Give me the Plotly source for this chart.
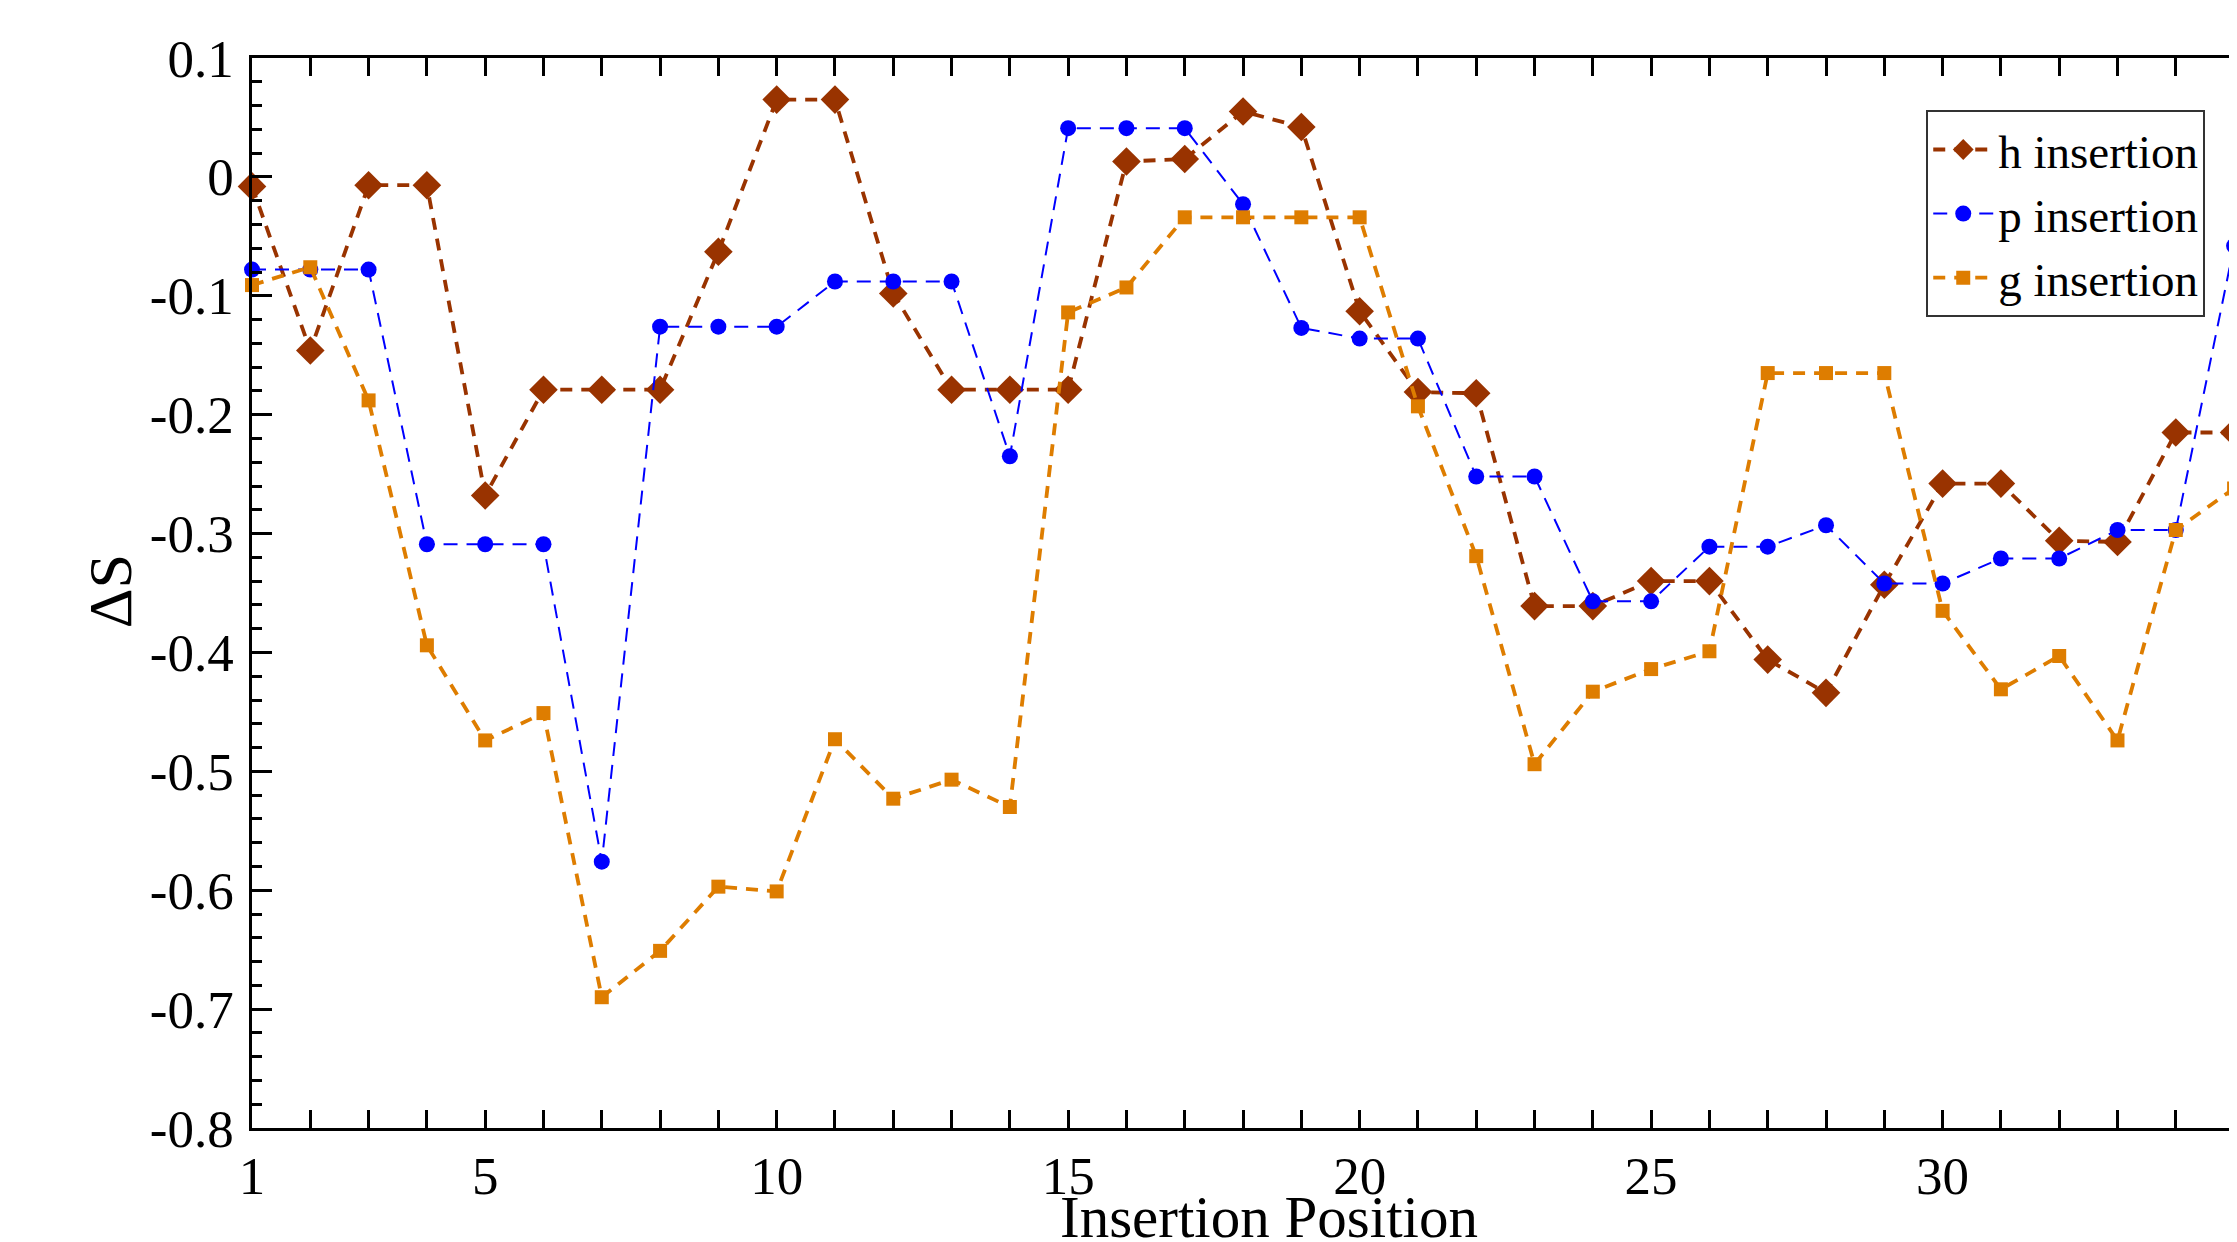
import plotly.graph_objects as go

positions = list(range(1, 36))

h_insertion = [-0.008, -0.146, -0.007, -0.007, -0.268, -0.179, -0.179, -0.179, -0.063, 0.065,
               0.065, -0.098, -0.179, -0.179, -0.179, 0.013, 0.015, 0.055, 0.042, -0.113,
               -0.181, -0.182, -0.361, -0.361, -0.340, -0.340, -0.406, -0.434, -0.343, -0.258,
               -0.258, -0.306, -0.307, -0.215, -0.215]

p_insertion = [-0.078, -0.078, -0.078, -0.309, -0.309, -0.309, -0.576, -0.126, -0.126, -0.126,
               -0.088, -0.088, -0.088, -0.235, 0.041, 0.041, 0.041, -0.023, -0.127, -0.136,
               -0.136, -0.252, -0.252, -0.357, -0.357, -0.311, -0.311, -0.293, -0.342, -0.342,
               -0.321, -0.321, -0.297, -0.297, -0.058]

g_insertion = [-0.091, -0.076, -0.188, -0.394, -0.474, -0.451, -0.690, -0.651, -0.597, -0.601,
               -0.473, -0.523, -0.507, -0.530, -0.114, -0.093, -0.034, -0.034, -0.034, -0.034,
               -0.193, -0.319, -0.494, -0.433, -0.414, -0.399, -0.165, -0.165, -0.165, -0.365,
               -0.431, -0.403, -0.474, -0.297, -0.262]

x_tick_vals = list(range(1, 36))
x_tick_text = [str(v) if (v == 1 or v % 5 == 0) else "" for v in x_tick_vals]
y_tick_vals = [0.1, 0, -0.1, -0.2, -0.3, -0.4, -0.5, -0.6, -0.7, -0.8]
y_tick_text = ["0.1", "0", "-0.1", "-0.2", "-0.3", "-0.4", "-0.5", "-0.6", "-0.7", "-0.8"]

FONT = "Liberation Serif, Times New Roman, serif"

fig = go.Figure()
fig.add_trace(go.Scatter(
    x=positions, y=h_insertion, name="h insertion", mode="lines+markers",
    line=dict(color="#993300", width=3.8, dash="12px,9px"),
    marker=dict(symbol="diamond", size=22, color="#993300"),
    cliponaxis=False))
fig.add_trace(go.Scatter(
    x=positions, y=p_insertion, name="p insertion", mode="lines+markers",
    line=dict(color="#0000FF", width=2, dash="14px,9px"),
    marker=dict(symbol="circle", size=16, color="#0000FF"),
    cliponaxis=False))
fig.add_trace(go.Scatter(
    x=positions, y=g_insertion, name="g insertion", mode="lines+markers",
    line=dict(color="#DE7D00", width=3.8, dash="12px,9px"),
    marker=dict(symbol="square", size=14, color="#DE7D00"),
    cliponaxis=False))

# page body has an 8px margin, so the figure is sized to fit the window
fig.update_layout(
    width=2229, height=1234,
    margin=dict(l=244, r=0, t=50, b=114),
    paper_bgcolor="white", plot_bgcolor="white",
    font=dict(family=FONT, size=53, color="black"),
    showlegend=True,
    legend=dict(
        x=0.984, y=0.951, xanchor="right", yanchor="top",
        bgcolor="white", bordercolor="#333333", borderwidth=2,
        font=dict(family=FONT, size=47, color="black"),
        itemwidth=60, tracegroupgap=0),
    xaxis=dict(
        range=[1, 35.05], tickvals=x_tick_vals, ticktext=x_tick_text,
        ticks="inside", ticklen=18, tickwidth=2.5, tickcolor="black",
        showline=True, linecolor="black", linewidth=2.5, mirror="allticks",
        showgrid=False, zeroline=False,
        tickfont=dict(family=FONT, size=53, color="black"),
        ticklabelstandoff=0),
    yaxis=dict(
        range=[-0.8, 0.1], tickvals=y_tick_vals, ticktext=y_tick_text,
        ticks="inside", ticklen=20, tickwidth=2.5, tickcolor="black",
        minor=dict(dtick=0.02, tick0=0, ticks="inside", ticklen=10,
                   tickwidth=2.5, tickcolor="black", showgrid=False),
        showline=True, linecolor="black", linewidth=2.5, mirror=False,
        showgrid=False, zeroline=False,
        tickfont=dict(family=FONT, size=53, color="black"),
        ticklabelstandoff=5),
    annotations=[
        dict(text="Insertion Position", xref="paper", yref="paper",
             x=0.5122, y=-0.0835, xanchor="center", yanchor="middle",
             showarrow=False, font=dict(family=FONT, size=59, color="black")),
        dict(text="ΔS", xref="paper", yref="paper",
             x=-0.0718, y=0.502, xanchor="center", yanchor="middle",
             textangle=-90, showarrow=False,
             font=dict(family=FONT, size=62, color="black")),
    ],
)

fig.write_html("out.html")
